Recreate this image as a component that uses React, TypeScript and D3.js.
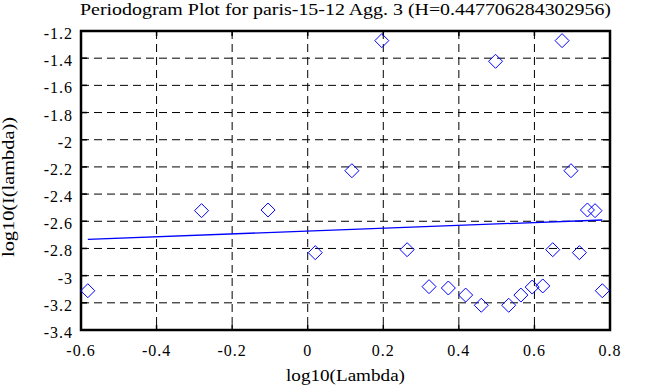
import React from "react";
import * as d3 from "d3";

// log10(lambda) for each Fourier frequency
const logLambda = [
  -0.582, -0.281, -0.1049, 0.02, 0.1169, 0.1961, 0.2631, 0.3211, 0.3722, 0.418,
  0.4594, 0.4971, 0.5319, 0.5641, 0.5941, 0.6221, 0.6484, 0.6732, 0.6967, 0.719,
  0.7402, 0.7604, 0.7797,
];
// log10(I(lambda))
const logI = [
  -3.111, -2.522, -2.517, -2.831, -2.228, -1.271, -2.809, -3.081, -3.091, -3.143,
  -3.218, -1.423, -3.218, -3.143, -3.084, -3.076, -2.809, -1.271, -2.228, -2.831,
  -2.517, -2.522, -3.111,
];
// least squares fit line end points
const fitX = [-0.582, 0.7797];
const fitY = [-2.733, -2.5906];

const xTicks = [-0.6, -0.4, -0.2, 0, 0.2, 0.4, 0.6, 0.8];
const yTicks = [-1.2, -1.4, -1.6, -1.8, -2, -2.2, -2.4, -2.6, -2.8, -3, -3.2, -3.4];

const title = "Periodogram Plot for paris-15-12 Agg. 3 (H=0.447706284302956)";

export default function App() {
  const width = 658,
    height = 387;
  const left = 81,
    right = 610,
    top = 31,
    bottom = 330;
  const font = "'Liberation Serif', 'Times New Roman', serif";

  const x = d3.scaleLinear().domain([-0.6, 0.8]).range([left, right]);
  const y = d3.scaleLinear().domain([-1.2, -3.4]).range([top, bottom]);

  const line = d3
    .line<number>()
    .x((d, i) => x(fitX[i]))
    .y((d) => y(d));

  const r = 7;
  const diamond = (cx: number, cy: number) =>
    `M${cx},${cy - r}L${cx + r},${cy}L${cx},${cy + r}L${cx - r},${cy}Z`;

  const fmt = (t: number) => d3.format("")(t).replace("−", "-");

  return (
    <svg
      width={width}
      height={height}
      style={{ position: "absolute", left: 0, top: 0, background: "#fff" }}
      fontFamily={font}
    >
      <rect width={width} height={height} fill="#fff" />
      <text
        x={(left + right) / 2}
        y={15}
        textAnchor="middle"
        fontSize={16}
        textLength={531}
        lengthAdjust="spacingAndGlyphs"
      >
        {title}
      </text>

      {/* grid */}
      {xTicks.slice(1, -1).map((t) => (
        <line
          key={"gx" + t}
          x1={x(t)}
          x2={x(t)}
          y1={top}
          y2={bottom}
          stroke="#000"
          strokeWidth={1}
          strokeDasharray="8,5"
        />
      ))}
      {yTicks.slice(1, -1).map((t) => (
        <line
          key={"gy" + t}
          x1={left}
          x2={right}
          y1={y(t)}
          y2={y(t)}
          stroke="#000"
          strokeWidth={1}
          strokeDasharray="8,5"
        />
      ))}

      {/* ticks */}
      {xTicks.map((t) => (
        <g key={"tx" + t}>
          <line x1={x(t)} x2={x(t)} y1={top} y2={top + 5} stroke="#000" strokeWidth={1.5} />
          <line x1={x(t)} x2={x(t)} y1={bottom} y2={bottom - 5} stroke="#000" strokeWidth={1.5} />
          <text x={x(t)} y={356} textAnchor="middle" fontSize={16} letterSpacing={1}>
            {fmt(t)}
          </text>
        </g>
      ))}
      {yTicks.map((t) => (
        <g key={"ty" + t}>
          <line x1={left} x2={left + 6} y1={y(t)} y2={y(t)} stroke="#000" strokeWidth={1.5} />
          <line x1={right} x2={right - 7} y1={y(t)} y2={y(t)} stroke="#000" strokeWidth={1.5} />
          <text x={73} y={y(t) + 8} textAnchor="end" fontSize={16} letterSpacing={1}>
            {fmt(t)}
          </text>
        </g>
      ))}

      {/* frame */}
      <rect
        x={left}
        y={top}
        width={right - left}
        height={bottom - top}
        fill="none"
        stroke="#000"
        strokeWidth={2.5}
      />

      {/* fit line */}
      <path d={line(fitY) || ""} fill="none" stroke="#0000ff" strokeWidth={1.3} />

      {/* points */}
      {logLambda.map((lx, i) => (
        <path
          key={"p" + i}
          d={diamond(x(lx), y(logI[i]))}
          fill="none"
          stroke="#0000ff"
          strokeWidth={1}
        />
      ))}

      <text
        x={(left + right) / 2}
        y={381}
        textAnchor="middle"
        fontSize={17}
        textLength={119}
        lengthAdjust="spacingAndGlyphs"
      >
        log10(Lambda)
      </text>
      <text
        transform={`translate(14,187) rotate(-90)`}
        textAnchor="middle"
        fontSize={17}
        textLength={140}
        lengthAdjust="spacingAndGlyphs"
      >
        log10(I(lambda))
      </text>
    </svg>
  );
}
